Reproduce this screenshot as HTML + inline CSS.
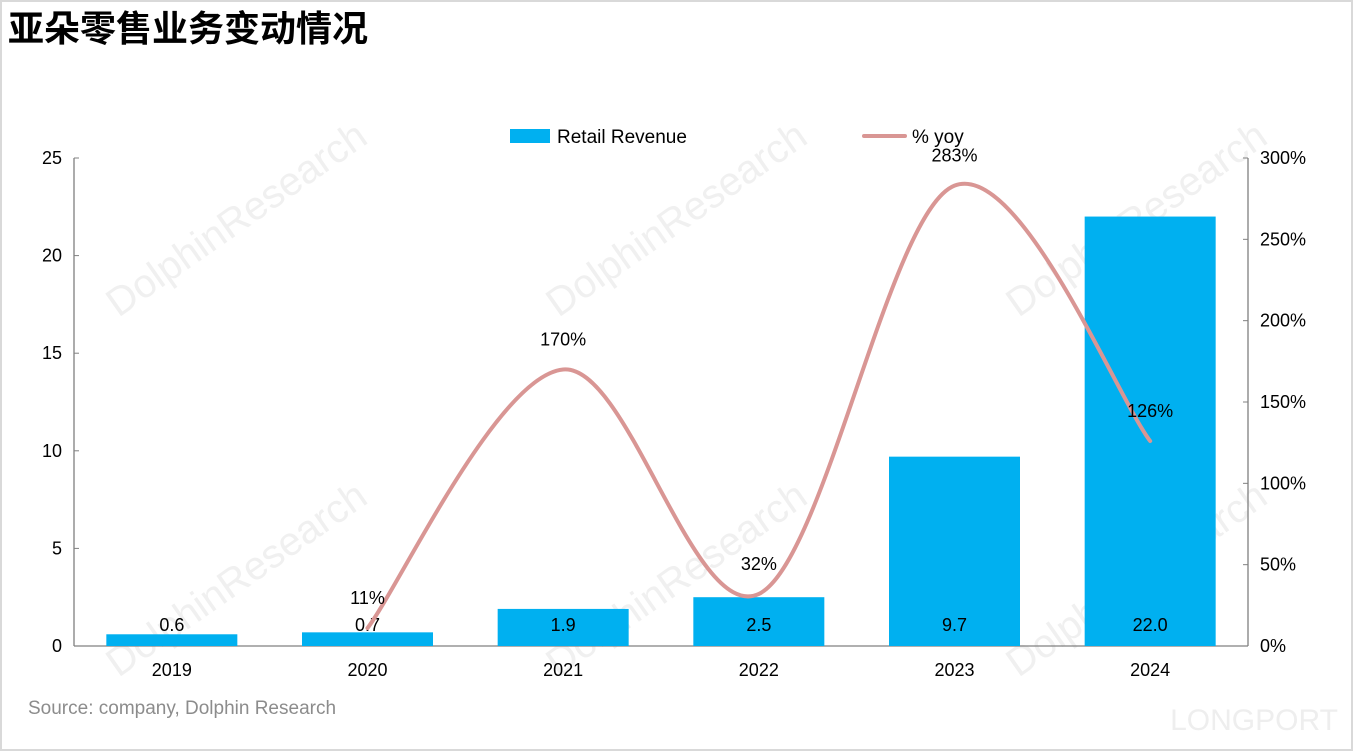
<!DOCTYPE html>
<html><head><meta charset="utf-8"><style>
html,body{margin:0;padding:0;background:#fff}
#wrap{position:relative;width:1353px;height:751px;box-sizing:border-box;border:2px solid #d9d9d9;overflow:hidden;font-family:"Liberation Sans","Noto Sans CJK SC",sans-serif}
#title{position:absolute;left:6px;top:-2px;font-size:36px;font-weight:bold;color:#000;font-family:"Noto Sans CJK SC","WenQuanYi Zen Hei",sans-serif}
#src{position:absolute;left:26px;top:696px;font-size:19px;color:#8c8c8c}
svg{position:absolute;left:-2px;top:-2px}
</style></head><body>
<div id="wrap">
<div id="title">亚朵零售业务变动情况</div>
<div id="src">Source: company, Dolphin Research</div>
<svg id="chart" width="1353" height="751"></svg>
</div>
<script>
const categories=["2019","2020","2021","2022","2023","2024"];
const revenue=[0.6,0.7,1.9,2.5,9.7,22.0];
const revLabels=["0.6","0.7","1.9","2.5","9.7","22.0"];
const yoy=[null,11,170,32,283,126];
const leftTicks=[0,5,10,15,20,25];
const rightTicks=[0,50,100,150,200,250,300];

const NS="http://www.w3.org/2000/svg";
const svg=document.getElementById('chart');
const x0=74,x1=1248,yb=646,yt=158;
const band=(x1-x0)/categories.length;
const xc=i=>x0+band*(i+0.5);
const yL=v=>yb-(v/25)*(yb-yt);
const yR=v=>yb-(v/300)*(yb-yt);
function mk(t,a,txt){const e=document.createElementNS(NS,t);for(const k in a)e.setAttribute(k,a[k]);if(txt!==undefined)e.textContent=txt;svg.appendChild(e);return e;}

[[244,230],[684,230],[1144,230],[244,590],[684,590],[1144,590]].forEach(p=>{
 const w=mk('text',{x:p[0],y:p[1],'font-size':40,fill:'#f0f0f0','text-anchor':'middle',transform:`rotate(-35 ${p[0]} ${p[1]})`},'DolphinResearch');
 
 
});
const lp=mk('text',{x:1254,y:730,'font-size':30,fill:'#eeeeee','text-anchor':'middle'},'LONGPORT');



const la=mk('line',{x1:x0,y1:yt,x2:x0,y2:yb,stroke:'#808080','stroke-width':1.3});


const ra=mk('line',{x1:x1,y1:yt,x2:x1,y2:yb,stroke:'#808080','stroke-width':1.3});


const xa=mk('line',{x1:x0,y1:yb,x2:x1,y2:yb,stroke:'#808080','stroke-width':1.3});


leftTicks.forEach(v=>{
 mk('line',{x1:x0,y1:yL(v),x2:x0+5,y2:yL(v),stroke:'#808080'});
 const t=mk('text',{x:62,y:yL(v)+6,'font-size':18,'text-anchor':'end',fill:'#000'},v);
 
 
});
rightTicks.forEach(v=>{
 mk('line',{x1:x1-5,y1:yR(v),x2:x1,y2:yR(v),stroke:'#808080'});
 const t=mk('text',{x:1260,y:yR(v)+6,'font-size':18,fill:'#000'},v+'%');
 
 
});
categories.forEach((c,i)=>{
 const t=mk('text',{x:xc(i),y:676,'font-size':18,'text-anchor':'middle',fill:'#000'},c);
 
 
});
const bw=131;
revenue.forEach((v,i)=>{
 const r=mk('rect',{x:xc(i)-bw/2,y:yL(v),width:bw,height:yb-yL(v),fill:'#00b0f0'});
 
 
 const t=mk('text',{x:xc(i),y:631,'font-size':18,'text-anchor':'middle',fill:'#000'},revLabels[i]);
 
 
});
const pts=[];yoy.forEach((v,i)=>{if(v!==null)pts.push([xc(i),yR(v)]);});
let d=`M${pts[0][0]},${pts[0][1]}`;
for(let i=0;i<pts.length-1;i++){
 const p0=pts[i-1]||pts[i],p1=pts[i],p2=pts[i+1],p3=pts[i+2]||p2;
 const c1=[p1[0]+(p2[0]-p0[0])/6,p1[1]+(p2[1]-p0[1])/6];
 const c2=[p2[0]-(p3[0]-p1[0])/6,p2[1]-(p3[1]-p1[1])/6];
 d+=` C${c1[0]},${c1[1]} ${c2[0]},${c2[1]} ${p2[0]},${p2[1]}`;
}
const ln=mk('path',{d:d,fill:'none',stroke:'#d99694','stroke-width':4,'stroke-linecap':'round'});


yoy.forEach((v,i)=>{if(v===null)return;
 const t=mk('text',{x:xc(i),y:yR(v)-24,'font-size':18,'text-anchor':'middle',fill:'#000'},v+'%');
 
 
});
const lr=mk('rect',{x:510,y:129,width:40,height:14,fill:'#00b0f0'});


const lt=mk('text',{x:557,y:143,'font-size':19,fill:'#000'},'Retail Revenue');


const ll=mk('line',{x1:864,y1:136,x2:905,y2:136,stroke:'#d99694','stroke-width':4,'stroke-linecap':'round'});


const lt2=mk('text',{x:912,y:143,'font-size':19,fill:'#000'},'% yoy');


</script>
</body></html>
